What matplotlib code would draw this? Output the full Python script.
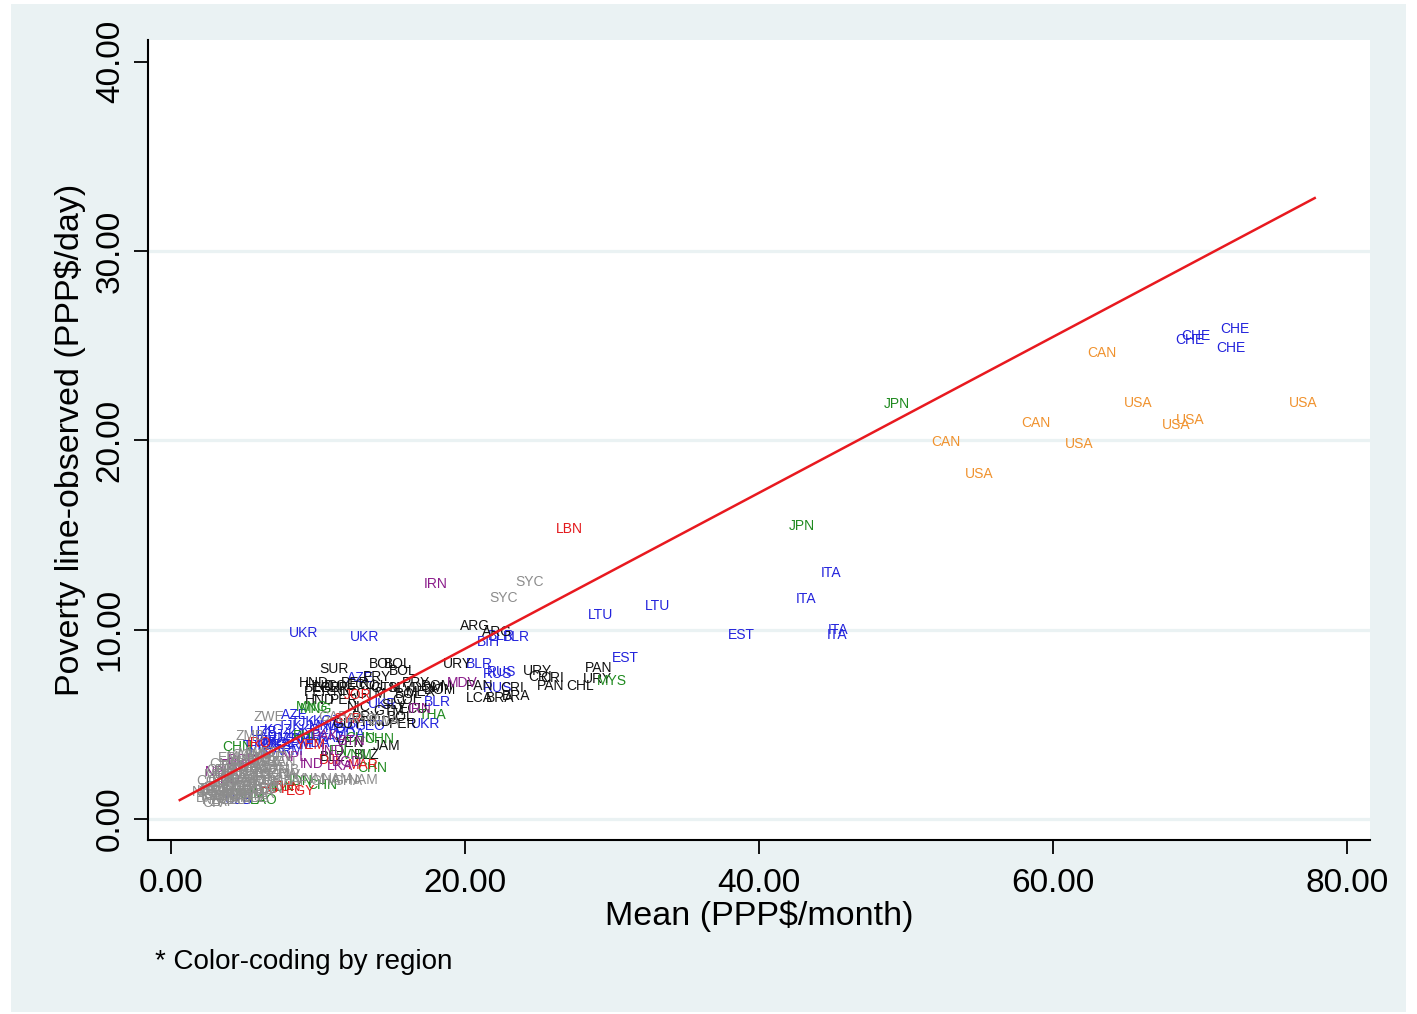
import matplotlib
matplotlib.use("Agg")
import matplotlib.pyplot as plt
from matplotlib.patches import Rectangle

plt.rcParams["font.family"] = ["Liberation Sans", "DejaVu Sans"]

# ---- data: country labels by region (mean PPP$/month, poverty line PPP$/day) ----
na_codes = ["CAN", "CAN", "CAN", "USA", "USA", "USA", "USA", "USA", "USA"]
na_x = [63.3, 58.8, 52.7, 65.8, 77.0, 69.3, 68.4, 61.8, 55.0]
na_y = [24.6, 20.9, 19.9, 22.0, 22.0, 21.1, 20.8, 19.8, 18.2]

eur_codes = ["CHE", "CHE", "CHE", "CHE", "ITA", "ITA", "ITA", "ITA", "EST", "EST", "LTU", "LTU",
             "UKR", "UKR", "BLR", "BIH", "BLR", "BLR", "RUS", "RUS", "RUS", "BLR", "UKR", "AZE",
             "UKR", "AZE", "TJK", "TJK", "KGZ", "MDA", "ARM", "KGZ", "TJK", "UZB", "KAZ", "MKD",
             "ALB", "KGZ", "ARM", "UZB", "TJK", "KGZ", "MDA", "GEO", "ARM",
             "TJK", "KGZ", "UZB", "ARM", "TJK", "MDA", "KAZ"]
eur_x = [72.4, 69.7, 69.3, 72.1, 44.9, 43.2, 45.4, 45.3, 38.8, 30.9, 33.1, 29.2,
         9.0, 13.2, 23.5, 21.6, 22.5, 21.0, 22.2, 22.5, 22.2, 18.1, 17.3, 12.9,
         14.4, 8.4, 5.7, 8.1, 9.8, 11.5, 7.0, 7.6, 6.8, 6.3, 8.9, 10.4,
         11.8, 7.3, 9.3, 4.6, 9.0, 10.6, 12.2, 13.5, 8.0,
         6.5, 7.2, 7.9, 8.6, 6.0, 9.8, 10.9]
eur_y = [25.9, 25.5, 25.3, 24.9, 13.0, 11.6, 10.0, 9.7, 9.7, 8.5, 11.25, 10.8,
         9.8, 9.6, 9.6, 9.35, 9.65, 8.2, 7.66, 7.77, 6.9, 6.2, 5.0, 7.45,
         6.1, 5.5, 3.85, 4.9, 4.7, 4.8, 4.3, 4.0, 3.9, 4.6, 4.5, 4.9,
         5.0, 4.7, 4.2, 1.0, 5.1, 5.2, 4.5, 4.9, 3.6,
         4.1, 3.9, 4.2, 3.9, 3.6, 4.0, 4.3]

lac_codes = ["ARG", "ARG", "PAN", "URY", "CHL", "PAN", "URY", "CRI", "CRI", "URY", "PAN", "DOM",
             "CRI", "LCA", "BRA", "BRA", "PER", "SUR", "BOL", "BOL", "BOL", "PRY", "PRY", "DOM",
             "HND", "PER", "COL", "ECU", "GTM", "SLV", "NIC", "HND", "PER", "MEX", "COL", "ECU",
             "GTM", "VEN", "JAM", "BLZ", "BLZ", "PRY", "BOL", "GUY", "HND", "HND", "PER", "COL",
             "DOM", "SLV", "NIC", "ECU", "GTM", "BOL", "PER"]
lac_x = [20.7, 22.2, 29.1, 29.0, 27.8, 25.8, 24.9, 25.1, 25.9, 19.5, 21.0, 18.1,
         23.2, 21.0, 22.4, 23.5, 15.8, 11.1, 14.4, 15.4, 15.8, 14.0, 16.7, 18.3,
         10.1, 10.0, 11.5, 13.0, 14.6, 15.6, 11.8, 10.1, 11.8, 17.0, 16.0, 16.5,
         14.8, 12.2, 14.7, 11.0, 13.3, 13.3, 15.6, 12.0, 14.0, 9.7, 12.5, 13.8,
         17.5, 15.2, 12.8, 10.6, 13.6, 16.2, 11.2]
lac_y = [10.2, 9.9, 8.0, 7.4, 7.0, 7.0, 7.8, 7.5, 7.45, 8.2, 7.0, 7.0,
         6.9, 6.4, 6.4, 6.5, 5.0, 7.9, 8.2, 8.2, 7.8, 7.5, 7.2, 6.8,
         7.0, 6.7, 7.0, 7.1, 6.9, 6.9, 6.7, 6.3, 6.3, 6.7, 6.3, 5.8,
         5.7, 4.0, 3.85, 3.3, 3.4, 5.4, 5.4, 5.0, 5.1, 7.2, 7.2, 7.0,
         6.9, 6.0, 5.9, 6.9, 6.6, 6.6, 6.9]

eap_codes = ["JPN", "JPN", "MYS", "THA", "MNG", "CHN", "CHN", "VNM", "CHN", "CHN", "IDN", "PHL",
             "LAO", "IDN", "MNG", "CHN", "KHM", "FJI"]
eap_x = [49.4, 42.9, 30.0, 17.8, 9.9, 14.2, 4.5, 12.7, 13.7, 10.3, 7.6, 9.2,
         6.3, 8.8, 9.6, 12.9, 5.4, 11.4]
eap_y = [21.9, 15.5, 7.3, 5.5, 5.8, 4.2, 3.8, 3.4, 2.7, 1.8, 1.7, 4.4,
         1.0, 2.0, 5.9, 4.3, 1.3, 3.6]

mena_codes = ["LBN", "JOR", "MAR", "TUN", "EGY", "YEM", "DJI", "IRQ", "EGY", "SYR"]
mena_x = [27.1, 12.7, 13.1, 7.9, 8.8, 9.5, 10.8, 6.0, 7.0, 12.0]
mena_y = [15.3, 6.55, 2.85, 1.7, 1.5, 3.9, 3.1, 4.0, 1.6, 5.3]

sas_codes = ["IRN", "MDV", "IRN", "PAK", "BGD", "NPL", "IND", "BTN", "LKA", "IND", "PAK", "NPL",
             "BGD", "IND"]
sas_x = [18.0, 19.8, 16.9, 4.3, 4.9, 3.2, 11.0, 12.3, 11.5, 9.6, 10.5, 8.4, 12.0, 3.9]
sas_y = [12.4, 7.2, 5.8, 2.85, 3.1, 2.5, 3.6, 4.1, 2.8, 2.9, 4.4, 3.3, 3.0, 2.1]

ssa_codes = ["SYC", "SYC", "ZWE", "ZMB", "NAM", "GHA", "GAB", "AGO", "BWA",
             "CIV", "ZAF", "KEN", "TZA", "UGA", "MOZ", "MWI", "ETH", "NGA", "SEN", "MLI",
             "BFA", "NER", "TCD", "CMR", "RWA", "BDI", "MDG", "SLE", "LBR", "GIN", "GMB",
             "TGO", "BEN", "CAF", "COD", "LSO", "SWZ", "MRT", "COG", "SDN", "CPV", "STP",
             "COM", "ERI", "GNB", "KEN", "TZA", "UGA", "NGA", "ETH", "GHA", "SEN", "MLI",
             "CMR", "MWI",
             "BFA", "NER", "TCD", "RWA", "BDI", "MDG", "SLE", "LBR", "GIN", "GMB",
             "TGO", "BEN", "CAF", "COD", "LSO", "SWZ", "MRT", "COG", "SDN", "ZMB",
             "MOZ", "ETH", "KEN", "UGA", "TZA", "NGA", "GHA", "SEN", "CIV", "CMR",
             "MLI", "MWI", "BWA", "NAM", "ZAF", "VNM", "GHA", "NAM"]
ssa_x = [24.4, 22.6, 6.7, 5.4, 13.1, 12.0, 11.0, 13.0, 14.5,
         2.9, 3.5, 3.0, 3.5, 4.0, 4.5, 5.0, 5.5, 6.0, 3.2, 3.8,
         4.3, 4.8, 5.3, 5.8, 6.3, 3.6, 4.1, 4.6, 5.1, 5.6, 6.1,
         6.6, 4.4, 4.9, 5.4, 5.9, 6.4, 3.0, 2.8, 7.0, 7.4, 6.9,
         5.2, 4.0, 3.4, 2.7, 3.9, 4.7, 5.7, 6.5, 7.6, 3.3, 4.2,
         5.0, 6.2,
         2.6, 3.1, 3.7, 4.2, 4.7, 5.2, 5.7, 6.2, 6.8, 7.2,
         2.9, 3.5, 4.0, 4.5, 5.0, 5.5, 6.0, 6.6, 7.1, 7.8,
         3.3, 3.9, 4.4, 5.3, 5.8, 6.3, 6.8, 7.5, 8.0, 3.7,
         4.6, 5.5, 6.1, 2.5, 8.5, 9.5, 10.5, 11.3]
ssa_y = [12.5, 11.7, 5.4, 4.4, 2.06, 2.0, 5.4, 5.3, 5.2,
         0.85, 0.9, 1.2, 1.4, 1.1, 1.3, 1.2, 1.4, 1.5, 1.7, 1.8,
         1.6, 1.9, 1.7, 2.0, 1.8, 2.2, 2.4, 2.2, 2.5, 2.3, 2.6,
         2.3, 2.8, 3.0, 2.9, 3.1, 3.0, 1.5, 2.0, 2.7, 3.3, 3.5,
         3.4, 3.2, 2.6, 1.5, 1.0, 1.6, 1.1, 2.0, 2.4, 1.2, 2.1,
         2.7, 3.2,
         1.1, 1.0, 1.2, 1.4, 1.0, 1.5, 1.1, 1.3, 1.6, 2.0,
         1.6, 1.9, 2.0, 1.7, 2.1, 1.9, 2.2, 2.0, 2.4, 2.6,
         2.3, 2.6, 2.3, 2.7, 2.6, 2.8, 3.0, 3.0, 2.3, 2.9,
         3.3, 3.5, 3.4, 1.4, 2.0, 2.1, 2.0, 2.1]

# fitted line end points (linear fit)
fit_x = [0.6, 77.8]
fit_y = [1.0, 32.8]

regions = [
    (na_codes, na_x, na_y, "#f0922e"),
    (eur_codes, eur_x, eur_y, "#2323dc"),
    (lac_codes, lac_x, lac_y, "#111111"),
    (eap_codes, eap_x, eap_y, "#1f8a1f"),
    (mena_codes, mena_x, mena_y, "#e3191c"),
    (sas_codes, sas_x, sas_y, "#8b1c8b"),
    (ssa_codes, ssa_x, ssa_y, "#8c8c8c"),
]

bg = "#EAF2F3"

fig = plt.figure(figsize=(14.17, 10.14), dpi=100, facecolor="white")
fig.add_artist(Rectangle((11 / 1417, 2 / 1014), 1395 / 1417, 1008 / 1014,
                         transform=fig.transFigure, facecolor=bg, edgecolor="none", zorder=0))

ax = fig.add_axes([148 / 1417, 1 - 840 / 1014, 1222 / 1417, 800 / 1014])
ax.set_facecolor("white")
ax.set_xlim(-1.56, 81.56)
ax.set_ylim(-1.11, 41.15)

for gy in [0, 10, 20, 30]:
    ax.axhline(gy, color=bg, linewidth=2.3, zorder=1)

for codes, xs, ys, col in regions:
    for c, x, y in zip(codes, xs, ys):
        ax.text(x, y, c, color=col, fontsize=10, ha="center", va="center", zorder=3)

ax.plot(fit_x, fit_y, color="#e8191f", linewidth=1.8, zorder=4)

ax.spines["top"].set_visible(False)
ax.spines["right"].set_visible(False)
ax.spines["left"].set_linewidth(1.5)
ax.spines["bottom"].set_linewidth(1.5)

ax.set_xticks([0, 20, 40, 60, 80])
ax.set_xticklabels(["0.00", "20.00", "40.00", "60.00", "80.00"])
ax.set_yticks([0, 10, 20, 30, 40])
ax.set_yticklabels(["0.00", "10.00", "20.00", "30.00", "40.00"], rotation=90, va="center")
ax.tick_params(axis="both", length=10, width=1.3, labelsize=24, direction="out")
ax.tick_params(axis="x", pad=10)
ax.tick_params(axis="y", pad=6)

fig.text(759 / 1417, 1 - 916 / 1014, "Mean (PPP$/month)", fontsize=24.5, ha="center", va="center")
fig.text(70 / 1417, 1 - 440 / 1014, "Poverty line-observed (PPP$/day)", fontsize=24.5,
         ha="center", va="center", rotation=90)
fig.text(155 / 1417, 1 - 962 / 1014, "* Color-coding by region", fontsize=20, ha="left", va="center")

fig.savefig("out.png", dpi=100, facecolor="white")
